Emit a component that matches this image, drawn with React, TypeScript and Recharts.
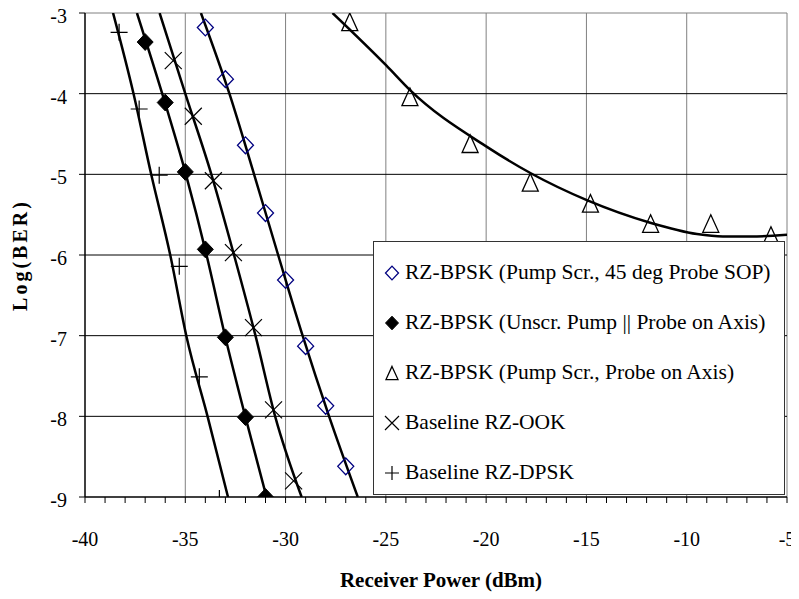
import React from 'react';
import { ComposedChart, Line, Scatter, XAxis, YAxis, ReferenceLine, Legend } from 'recharts';

const FONT = '"Liberation Serif", "Nimbus Roman", "Nimbus Roman No9 L", FreeSerif, "Noto Serif", "DejaVu Serif", Georgia, serif';

// Axis ticks
const xMajorTicks = [-40, -35, -30, -25, -20, -15, -10, -5];
const xAllTicks = [-40, -39, -38, -37, -36, -35, -34, -33, -32, -31, -30, -29, -28, -27, -26, -25, -24, -23, -22, -21, -20, -19, -18, -17, -16, -15, -14, -13, -12, -11, -10, -9, -8, -7, -6, -5];
const yTicks = [-9, -8, -7, -6, -5, -4, -3];
const xGridGray = [-35, -30, -25, -20, -15, -10, -5];
const yGridBlack = [-4, -5, -6, -7, -8];
const yBorderGray = [-3];

// Series names and marker kinds
const seriesNames = [
  'RZ-BPSK (Pump Scr., 45 deg Probe SOP)',
  'RZ-BPSK (Unscr. Pump || Probe on Axis)',
  'RZ-BPSK (Pump Scr., Probe on Axis)',
  'Baseline RZ-OOK',
  'Baseline RZ-DPSK',
];
const seriesKinds = ['openDiamond', 'filledDiamond', 'triangle', 'cross', 'plus'];

// Measured points
const scr45X = [-34, -33, -32, -31, -30, -29, -28, -27];
const scr45Y = [-3.18, -3.82, -4.64, -5.48, -6.31, -7.13, -7.87, -8.62];
const unscrX = [-37, -36, -35, -34, -33, -32, -31];
const unscrY = [-3.36, -4.11, -4.97, -5.93, -7.02, -8.01, -9.0];
const scrAxisX = [-26.8, -23.8, -20.8, -17.8, -14.8, -11.8, -8.8, -5.8];
const scrAxisY = [-3.11, -4.04, -4.62, -5.1, -5.36, -5.61, -5.61, -5.76];
const ookX = [-35.6, -34.6, -33.6, -32.6, -31.6, -30.6, -29.6];
const ookY = [-3.59, -4.28, -5.08, -5.97, -6.9, -7.92, -8.8];
const dpskX = [-38.3, -37.3, -36.3, -35.3, -34.3, -33.3];
const dpskY = [-3.24, -4.19, -5.01, -6.14, -7.51, -9.02];

// Fitted trend curves
const scr45FitX = [-34.22, -32.8, -31.57, -30.37, -29.15, -27.83, -26.4];
const scr45FitY = [-3, -4, -5, -6, -7, -8, -9];
const unscrFitX = [-37.41, -36.15, -34.97, -33.94, -33.02, -32.01, -30.95];
const unscrFitY = [-3, -4, -5, -6, -7, -8, -9];
const scrAxisFitX = [-27.66, -24.98, -23.78, -19.96, -17.75, -14.98, -11.82, -9.49, -8.2, -6.5, -5];
const scrAxisFitY = [-3.0, -3.65, -3.96, -4.66, -4.99, -5.32, -5.6, -5.74, -5.77, -5.77, -5.75];
const ookFitX = [-36.28, -35.0, -33.7, -32.57, -31.5, -30.52, -29.2];
const ookFitY = [-3, -4, -5, -6, -7, -8, -9];
const dpskFitX = [-38.6, -37.58, -36.7, -35.75, -34.95, -33.89, -32.87];
const dpskFitY = [-3, -4, -5, -6, -7, -8, -9];

const zip = (xs: number[], ys: number[]) => xs.map((x, i) => ({ x, y: ys[i] }));

const pointSets = [
  zip(scr45X, scr45Y),
  zip(unscrX, unscrY),
  zip(scrAxisX, scrAxisY),
  zip(ookX, ookY),
  zip(dpskX, dpskY),
];
const fitSets = [
  zip(scr45FitX, scr45FitY),
  zip(unscrFitX, unscrFitY),
  zip(scrAxisFitX, scrAxisFitY),
  zip(ookFitX, ookFitY),
  zip(dpskFitX, dpskFitY),
];

const Marker = ({ kind, cx, cy, s }: { kind: string; cx: number; cy: number; s: number }) => {
  if (cx == null || cy == null) return <g />;
  switch (kind) {
    case 'openDiamond':
      return (
        <path
          d={`M${cx},${cy - s * 1.05}L${cx + s},${cy}L${cx},${cy + s * 1.05}L${cx - s},${cy}Z`}
          fill="none"
          stroke="#000080"
          strokeWidth={1.3}
        />
      );
    case 'filledDiamond':
      return (
        <path
          d={`M${cx},${cy - s * 1.05}L${cx + s},${cy}L${cx},${cy + s * 1.05}L${cx - s},${cy}Z`}
          fill="#000"
          stroke="#000"
          strokeWidth={1}
        />
      );
    case 'triangle':
      return (
        <path
          d={`M${cx},${cy - s * 1.1}L${cx + s},${cy + s * 1.1}L${cx - s},${cy + s * 1.1}Z`}
          fill="none"
          stroke="#000"
          strokeWidth={1.3}
        />
      );
    case 'cross':
      return (
        <path
          d={`M${cx - s},${cy - s}L${cx + s},${cy + s}M${cx - s},${cy + s}L${cx + s},${cy - s}`}
          stroke="#000"
          strokeWidth={1.2}
          fill="none"
        />
      );
    case 'plus':
    default:
      return (
        <path
          d={`M${cx - s},${cy}L${cx + s},${cy}M${cx},${cy - s}L${cx},${cy + s}`}
          stroke="#000"
          strokeWidth={1.2}
          fill="none"
        />
      );
  }
};

const legendMarkerSize: Record<string, number> = {
  openDiamond: 6.5,
  filledDiamond: 6.5,
  triangle: 6,
  cross: 7,
  plus: 7,
};
const chartMarkerSize: Record<string, number> = {
  openDiamond: 8,
  filledDiamond: 8,
  triangle: 8,
  cross: 8.5,
  plus: 8.5,
};

const LegendBox = () => (
  <div
    style={{
      width: 412,
      height: 254,
      boxSizing: 'border-box',
      border: '1px solid #333',
      background: '#fff',
      paddingTop: 6,
      fontFamily: FONT,
    }}
  >
    {seriesNames.map((name, i) => (
      <div key={name} style={{ height: 50, display: 'flex', alignItems: 'center' }}>
        <svg width={31} height={20} style={{ flex: 'none' }}>
          <Marker kind={seriesKinds[i]} cx={18} cy={10} s={legendMarkerSize[seriesKinds[i]]} />
        </svg>
        <span style={{ fontSize: 21.5, color: '#000', whiteSpace: 'nowrap', lineHeight: 1, fontFamily: FONT }}>{name}</span>
      </div>
    ))}
  </div>
);

const XTitle = (props: any) => {
  const vb = props.viewBox || { x: 85, y: 497, width: 702, height: 102 };
  const cx = vb.x + vb.width / 2 + 5;
  const cy = vb.y + 83;
  return (
    <text x={cx} y={cy} textAnchor="middle" dominantBaseline="central" style={{ fontFamily: FONT }} fontWeight="bold" fontSize={21} fill="#000">
      Receiver Power (dBm)
    </text>
  );
};

const YTitle = (props: any) => {
  const vb = props.viewBox || { x: 0, y: 13, width: 85, height: 484 };
  const cx = vb.x + 20;
  const cy = vb.y + vb.height / 2;
  return (
    <text
      x={cx}
      y={cy}
      transform={`rotate(-90 ${cx} ${cy})`}
      textAnchor="middle"
      dominantBaseline="central"
      style={{ fontFamily: FONT }}
      fontWeight="bold"
      fontSize={20}
      letterSpacing={3}
      fill="#000"
    >
      Log(BER)
    </text>
  );
};

export default function App() {
  return (
    <div style={{ width: 799, height: 599, position: 'relative', background: '#fff', margin: '-8px 0 0 -8px', fontFamily: FONT }}>
      <ComposedChart width={799} height={599} margin={{ top: 13, right: 12, bottom: 0, left: 0 }}>
        <XAxis
          type="number"
          dataKey="x"
          domain={[-40, -5]}
          ticks={xAllTicks}
          interval={0}
          allowDataOverflow
          tickFormatter={(v: number) => (xMajorTicks.includes(v) ? String(v) : '')}
          tick={{ fill: '#000', fontSize: 20, style: { fontFamily: FONT } }}
          tickSize={6}
          tickMargin={29}
          height={102}
          axisLine={{ stroke: '#000', strokeWidth: 1.5 }}
          tickLine={{ stroke: '#000' }}
          label={XTitle}
        />
        <YAxis
          type="number"
          dataKey="y"
          domain={[-9, -3]}
          ticks={yTicks}
          interval={0}
          allowDataOverflow
          width={85}
          tick={{ fill: '#000', fontSize: 20, dy: 3, style: { fontFamily: FONT } }}
          tickSize={6}
          tickMargin={12}
          axisLine={{ stroke: '#000', strokeWidth: 1.5 }}
          tickLine={{ stroke: '#000' }}
          label={YTitle}
        />
        {xGridGray.map((v) => (
          <ReferenceLine key={'gx' + v} x={v} stroke="#808080" strokeWidth={1} />
        ))}
        {yBorderGray.map((v) => (
          <ReferenceLine key={'gb' + v} y={v} stroke="#808080" strokeWidth={1} />
        ))}
        {yGridBlack.map((v) => (
          <ReferenceLine key={'gy' + v} y={v} stroke="#000" strokeWidth={1} />
        ))}
        {fitSets.map((d, i) => (
          <Line
            key={'fit' + i}
            data={d}
            dataKey="y"
            type="monotone"
            stroke="#000"
            strokeWidth={2.5}
            dot={false}
            activeDot={false}
            legendType="none"
            isAnimationActive={false}
          />
        ))}
        {pointSets.map((d, i) => (
          <Scatter
            key={'pts' + i}
            name={seriesNames[i]}
            data={d}
            dataKey="y"
            isAnimationActive={false}
            shape={(p: any) => <Marker kind={seriesKinds[i]} cx={p.cx} cy={p.cy} s={chartMarkerSize[seriesKinds[i]]} />}
          />
        ))}
        <Legend
          layout="vertical"
          align="center"
          verticalAlign="middle"
          content={() => <LegendBox />}
          wrapperStyle={{ position: 'absolute', left: 373, top: 241, width: 412, height: 254 }}
        />
      </ComposedChart>
    </div>
  );
}
